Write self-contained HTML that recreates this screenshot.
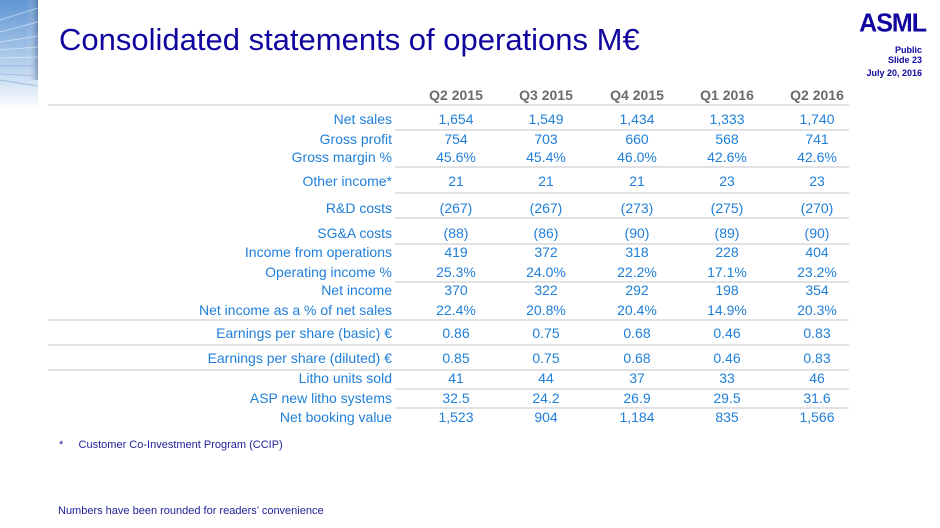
<!DOCTYPE html>
<html><head><meta charset="utf-8"><style>
body{margin:0;width:940px;height:528px;overflow:hidden;background:#fff;font-family:"Liberation Sans",Arial,sans-serif;position:relative}
.a{position:absolute;white-space:nowrap}
.lbl{color:#1f7fd9;font-size:14px;text-align:right;width:390px;left:2px}
.val{color:#1f7fd9;font-size:14px;text-align:center;width:90px}
.hdr{color:#6b6b6b;font-size:14px;font-weight:bold;text-align:center;width:90px}
.ln{position:absolute;height:2px;background:#e2e2e2}
</style></head><body>
<svg class="a" style="left:0;top:0" width="40" height="110">
<defs>
<linearGradient id="g" x1="0" y1="0" x2="0" y2="1"><stop offset="0" stop-color="#5f95d3"/><stop offset="0.6" stop-color="#b9d2ee"/><stop offset="1" stop-color="#fff"/></linearGradient>
<linearGradient id="h" x1="0" x2="1"><stop offset="0.7" stop-color="#fff" stop-opacity="0"/><stop offset="1" stop-color="#3c5f8c" stop-opacity="0.5"/></linearGradient>
</defs>
<rect x="0" y="0" width="38" height="110" fill="url(#g)"/>
<rect x="0" y="0" width="38" height="80" fill="url(#h)"/>
<path d="M0 20 L38 8 M0 32 L38 22 M0 42 L38 36 M0 50 L38 47 M0 58 L38 57 M0 66 L38 66 M0 74 L38 76 M0 80 L38 86" stroke="#ffffff" stroke-opacity="0.45" stroke-width="1" fill="none"/>
<path d="M0 66 L38 66 M0 74 L38 76 M0 80 L38 86" stroke="#6f98c8" stroke-opacity="0.6" stroke-width="1" fill="none"/>
</svg>
<div class="a" style="left:59px;top:22px;font-size:31px;color:#10069f">Consolidated statements of operations M€</div>
<div class="a" style="right:14px;top:9px;font-size:25px;font-weight:bold;color:#10069f;letter-spacing:-1px;transform:scaleY(1.05)">ASML</div>
<div class="a" style="right:18px;top:45px;font-size:9px;font-weight:bold;color:#10069f;text-align:right;line-height:10px">Public<br>Slide 23</div>
<div class="a" style="right:18px;top:68px;font-size:9px;font-weight:bold;color:#10069f">July 20, 2016</div>
<div id="tbl"></div>
<div class="a" style="left:59px;top:439px;font-size:11px;color:#22229a">*&nbsp;&nbsp;&nbsp;&nbsp;&nbsp;Customer Co-Investment Program (CCIP)</div>
<div class="a" style="left:58px;top:505px;font-size:11px;color:#22229a">Numbers have been rounded for readers’ convenience</div>
<script>
const periods=["Q2 2015","Q3 2015","Q4 2015","Q1 2016","Q2 2016"];
const labels=["Net sales","Gross profit","Gross margin %","Other income*","R&D costs","SG&A costs","Income from operations","Operating income %","Net income","Net income as a % of net sales","Earnings per share (basic) €","Earnings per share (diluted) €","Litho units sold","ASP new litho systems","Net booking value"];
const values=[
["1,654","1,549","1,434","1,333","1,740"],
["754","703","660","568","741"],
["45.6%","45.4%","46.0%","42.6%","42.6%"],
["21","21","21","23","23"],
["(267)","(267)","(273)","(275)","(270)"],
["(88)","(86)","(90)","(89)","(90)"],
["419","372","318","228","404"],
["25.3%","24.0%","22.2%","17.1%","23.2%"],
["370","322","292","198","354"],
["22.4%","20.8%","20.4%","14.9%","20.3%"],
["0.86","0.75","0.68","0.46","0.83"],
["0.85","0.75","0.68","0.46","0.83"],
["41","44","37","33","46"],
["32.5","24.2","26.9","29.5","31.6"],
["1,523","904","1,184","835","1,566"]];
const rowY=[119,139,157,181,208,233,252,272,290,310,333,358,378,398,417];
const colX=[456,546,637,727,817];
const lines=[[104,48],[129,395],[166,395],[192,395],[217,395],[243,395],[281,395],[319,48],[344,48],[369,48],[388,395],[407,395]];
const t=document.getElementById('tbl');
periods.forEach((p,i)=>{const d=document.createElement('div');d.className='a hdr';d.style.left=(colX[i]-45)+'px';d.style.top='87px';d.textContent=p;


t.appendChild(d);});
labels.forEach((l,r)=>{const d=document.createElement('div');d.className='a lbl';d.style.top=(rowY[r]-8)+'px';d.textContent=l;


t.appendChild(d);
values[r].forEach((v,c)=>{const e=document.createElement('div');e.className='a val';e.style.left=(colX[c]-45)+'px';e.style.top=(rowY[r]-8)+'px';e.textContent=v;


t.appendChild(e);});});
lines.forEach(([y,x])=>{const d=document.createElement('div');d.className='ln';d.style.top=y+'px';d.style.left=x+'px';d.style.width=(849-x)+'px';


t.appendChild(d);});
</script>
</body></html>
